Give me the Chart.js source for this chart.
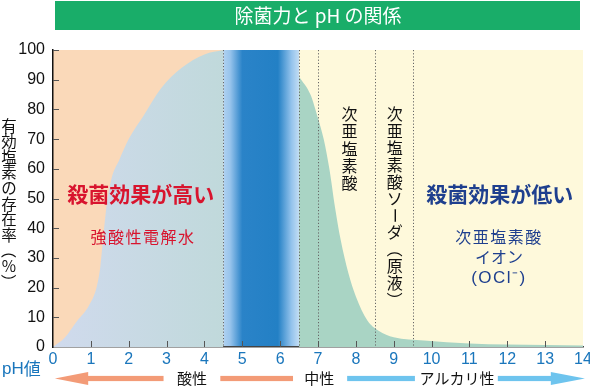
<!DOCTYPE html>
<html><head><meta charset="utf-8">
<script src="https://cdn.jsdelivr.net/npm/chart.js@4/dist/chart.umd.min.js"></script>
<style>html,body{margin:0;padding:0;background:#fff}#wrap{width:590px;height:386px;position:relative}</style>
</head><body><div id="wrap"><canvas id="c" width="590" height="386"></canvas></div>
<script>
// ---- data ----
const chartTitle = '除菌力と pH の関係';
const yAxisTitle = '有効塩素の存在率（%）';
const xAxisTitle = 'pH値';
const xTickValues = [0,1,2,3,4,5,6,7,8,9,10,11,12,13,14];
const yTickValues = [0,10,20,30,40,50,60,70,80,90,100];
// acid side: HOCl share rising (pH 0 – 4.5)
const phAcid   = [0, 0.3, 0.65, 0.95, 1.15, 1.25, 1.32, 1.42, 1.55, 1.75, 2.0, 2.4, 2.85, 3.4, 4.0, 4.5];
const hoclAcid = [0, 3,   9,    14,   20,   27,   36,   48,   57,   63,   70,  78,  87,   94,  98.5, 100];
// alkaline side: HOCl share falling (pH 6.5 – 14)
const phAlk    = [6.5, 6.8, 7.0, 7.15, 7.3, 7.45, 7.6, 7.8, 8.0, 8.3, 8.6, 9.0, 9.8, 11, 12, 14];
const hoclAlk  = [91,  85,  77,  70,   60,  47,   36,  25,  17,  9,   5.5, 3.3, 2.2, 1.2, 0.8, 0.5];
const zoneAcid = [0, 4.5];
const zoneBand = [4.5, 6.5];
const zoneAlk  = [6.5, 14];
const dividerPh = [4.5, 6.5, 7, 8.5, 9.5];
const highLabel = '殺菌効果が高い';
const highSub = '強酸性電解水';
const lowLabel = '殺菌効果が低い';
const lowSub = ['次亜塩素酸', 'イオン', '(OCl⁻)'];
const colHocl = '次亜塩素酸';
const colSoda = '次亜塩素酸ソーダ（原液）';
const scaleWords = ['酸性', '中性', 'アルカリ性'];

// ---- styles ----
const JP = "'Noto Sans CJK JP', 'Noto Sans', sans-serif";
const NUM = "'Liberation Sans', Arial, sans-serif";
const C_PEACH = '#fad9b9', C_YELLOW = '#fef9db', C_GREEN = '#a9d4c4';
const C_RED = '#d8142e', C_NAVY = '#1e3f8e', C_BLUE_TXT = '#1a76bc';
const C_SALMON = '#f39b77', C_SKY = '#6ec4ee';

function pts(xs, ys){ return xs.map((x,i)=>({x, y: ys[i]})); }

function acidFill(ctx){
  const ch = ctx.chart; const a = ch.chartArea;
  if (!a) return '#c8d9e4';
  const xs = ch.scales.x;
  const g = ch.ctx.createLinearGradient(xs.getPixelForValue(zoneAcid[0]), 0, xs.getPixelForValue(zoneAcid[1]), 0);
  g.addColorStop(0, '#d0daed');
  g.addColorStop(1, '#c0d9db');
  return g;
}

function vText(ctx, text, cx, top, step, rotSet){
  for (let i = 0; i < text.length; i++){
    const ch = text[i];
    const cy = top + step * (i + 0.5);
    ctx.save();
    ctx.translate(cx, cy);
    if (rotSet.includes(ch)) ctx.rotate(Math.PI/2);
    ctx.textAlign = 'center'; ctx.textBaseline = 'middle';
    ctx.fillText(ch, 0, 0);
    ctx.restore();
  }
}

const bgPlugin = {
  id: 'bg',
  beforeDraw(chart){
    const {ctx, chartArea: a, scales: {x}} = chart;
    ctx.save();
    ctx.fillStyle = C_PEACH;
    ctx.fillRect(x.getPixelForValue(zoneAcid[0]), a.top, x.getPixelForValue(zoneAcid[1]) - x.getPixelForValue(zoneAcid[0]), a.bottom - a.top);
    ctx.fillStyle = C_YELLOW;
    ctx.fillRect(x.getPixelForValue(zoneAlk[0]), a.top, x.getPixelForValue(zoneAlk[1]) - x.getPixelForValue(zoneAlk[0]), a.bottom - a.top);
    const b0 = x.getPixelForValue(zoneBand[0]), b1 = x.getPixelForValue(zoneBand[1]);
    const g = ctx.createLinearGradient(b0, 0, b1, 0);
    g.addColorStop(0, '#b0d2f1');
    g.addColorStop(0.09, '#98c4ec');
    g.addColorStop(0.25, '#2a83c8');
    g.addColorStop(0.72, '#2380c5');
    g.addColorStop(0.9, '#94c3ec');
    g.addColorStop(1, '#c2ddf4');
    ctx.fillStyle = g;
    ctx.fillRect(b0, a.top, b1 - b0, a.bottom - a.top);
    ctx.restore();
  }
};

const overlayPlugin = {
  id: 'overlay',
  afterDraw(chart){
    const {ctx, chartArea: a, scales: {x, y}} = chart;
    ctx.save();
    // dotted dividers
    ctx.strokeStyle = '#666'; ctx.lineWidth = 1; ctx.setLineDash([1.2, 2]);
    dividerPh.forEach(v => {
      const px = Math.round(x.getPixelForValue(v)) + 0.5;
      ctx.beginPath(); ctx.moveTo(px, a.top); ctx.lineTo(px, a.bottom - 1); ctx.stroke();
    });
    ctx.setLineDash([]);
    // inside tick marks
    ctx.strokeStyle = '#555'; ctx.lineWidth = 1;
    yTickValues.forEach(v => {
      if (v === 0) return;
      const py = Math.round(y.getPixelForValue(v)) + 0.5;
      ctx.beginPath(); ctx.moveTo(a.left, py); ctx.lineTo(a.left + 6, py); ctx.stroke();
    });
    xTickValues.forEach(v => {
      if (v === 0 || v === 14) return;
      const px = Math.round(x.getPixelForValue(v)) + 0.5;
      ctx.beginPath(); ctx.moveTo(px, a.bottom); ctx.lineTo(px, a.bottom - 6); ctx.stroke();
    });

    // title bar
    ctx.fillStyle = '#19ad69';
    ctx.fillRect(55, 1, 525, 29);
    ctx.fillStyle = '#fff';
    ctx.font = `19px ${JP}`;
    ctx.textAlign = 'center'; ctx.textBaseline = 'middle';
    ctx.fillText(chartTitle, 318, 16);

    // big labels
    ctx.textAlign = 'center'; ctx.textBaseline = 'middle';
    ctx.fillStyle = C_RED;
    ctx.font = `bold 21px ${JP}`;
    ctx.fillText(highLabel, x.getPixelForValue(2.32), y.getPixelForValue(51.5));
    ctx.font = `16px ${JP}`;
    ctx.letterSpacing = '1.5px';
    ctx.fillText(highSub, x.getPixelForValue(2.38), y.getPixelForValue(37.2));
    ctx.letterSpacing = '0px';
    ctx.fillStyle = C_NAVY;
    ctx.font = `bold 21px ${JP}`;
    ctx.fillText(lowLabel, x.getPixelForValue(11.8), y.getPixelForValue(51.5));
    ctx.font = `16px ${JP}`;
    ctx.letterSpacing = '1.5px';
    ctx.fillText(lowSub[0], x.getPixelForValue(11.78), y.getPixelForValue(37.2));
    ctx.letterSpacing = '0px';
    ctx.fillText(lowSub[1], x.getPixelForValue(11.78), y.getPixelForValue(30.3));
    ctx.font = `17px ${NUM}`;
    ctx.letterSpacing = '1.5px';
    ctx.fillText(lowSub[2], x.getPixelForValue(11.78), y.getPixelForValue(23.2));
    ctx.letterSpacing = '0px';

    // vertical column texts
    ctx.fillStyle = '#111';
    ctx.font = `16px ${JP}`;
    const rot = ['ー', '（', '）'];
    vText(ctx, colHocl, x.getPixelForValue(7.83), y.getPixelForValue(81.3), 17.2, rot);
    vText(ctx, colSoda, x.getPixelForValue(9.03), y.getPixelForValue(81.3), 16.9, rot);

    // y axis title (vertical)
    ctx.fillStyle = '#111';
    ctx.font = `15.5px ${JP}`;
    vText(ctx, yAxisTitle, 9, 118, 15.6, rot);

    // pH label
    ctx.fillStyle = C_BLUE_TXT;
    ctx.textAlign = 'left'; ctx.textBaseline = 'middle';
    ctx.font = `17px ${NUM}`;
    ctx.fillText('pH', 2, 369);
    const w = ctx.measureText('pH').width;
    ctx.font = `17px ${JP}`;
    ctx.fillText('値', 2 + w, 369);

    // bottom arrows
    const cy = 378.5, sh = 2.6, hh = 6.5;
    const px = v => x.getPixelForValue(v);
    ctx.fillStyle = C_SALMON;
    ctx.beginPath();
    ctx.moveTo(px(0.05), cy); ctx.lineTo(px(0.93), cy - hh); ctx.lineTo(px(0.93), cy + hh); ctx.closePath(); ctx.fill();
    ctx.fillRect(px(0.92), cy - sh, px(2.92) - px(0.92), sh * 2);
    ctx.fillRect(px(4.42), cy - sh, px(6.34) - px(4.42), sh * 2);
    ctx.fillStyle = C_SKY;
    ctx.fillRect(px(7.77), cy - sh, px(9.56) - px(7.77), sh * 2);
    ctx.fillRect(px(11.75), cy - sh, px(13.2) - px(11.75), sh * 2);
    ctx.beginPath();
    ctx.moveTo(px(14.05), cy); ctx.lineTo(px(13.15), cy - hh); ctx.lineTo(px(13.15), cy + hh); ctx.closePath(); ctx.fill();

    ctx.fillStyle = '#111';
    ctx.font = `15px ${JP}`;
    ctx.textAlign = 'center'; ctx.textBaseline = 'middle';
    ctx.fillText(scaleWords[0], px(3.67), cy);
    ctx.fillText(scaleWords[1], px(7.03), cy);
    ctx.fillText(scaleWords[2], px(10.67), cy);
    ctx.restore();
  }
};

new Chart(document.getElementById('c').getContext('2d'), {
  type: 'line',
  data: {
    datasets: [
      { data: pts(phAcid, hoclAcid), fill: 'origin', backgroundColor: acidFill, borderWidth: 0, borderColor: 'rgba(0,0,0,0)', pointRadius: 0, cubicInterpolationMode: 'monotone' },
      { data: pts(phAlk, hoclAlk), fill: 'origin', backgroundColor: C_GREEN, borderWidth: 0, borderColor: 'rgba(0,0,0,0)', pointRadius: 0, cubicInterpolationMode: 'monotone' }
    ]
  },
  options: {
    responsive: false, animation: false, devicePixelRatio: 1,
    layout: { padding: { top: 50, right: 7, left: 0, bottom: 0 } },
    plugins: { legend: { display: false }, tooltip: { enabled: false }, title: { display: false } },
    scales: {
      x: {
        type: 'linear', min: 0, max: 14, z: 1,
        afterBuildTicks(s){ s.ticks = xTickValues.map(v => ({value: v})); },
        ticks: { color: C_BLUE_TXT, font: { size: 16, family: NUM }, padding: 3, maxRotation: 0, autoSkip: false },
        grid: { display: false, drawTicks: false },
        border: { display: true, color: '#444', width: 1.5 },
        afterFit(s){ s.paddingRight = 0; s.paddingLeft = 0; s.height = 39; }
      },
      y: {
        min: 0, max: 100, z: 1,
        afterBuildTicks(s){ s.ticks = yTickValues.map(v => ({value: v})); },
        ticks: { color: '#111', font: { size: 16, family: NUM }, padding: 8 },
        grid: { display: false, drawTicks: false },
        border: { display: true, color: '#111', width: 1.5 },
        afterFit(s){ s.width = 53; s.paddingTop = 0; s.paddingBottom = 0; }
      }
    }
  },
  plugins: [bgPlugin, overlayPlugin]
});
</script>
</body></html>
